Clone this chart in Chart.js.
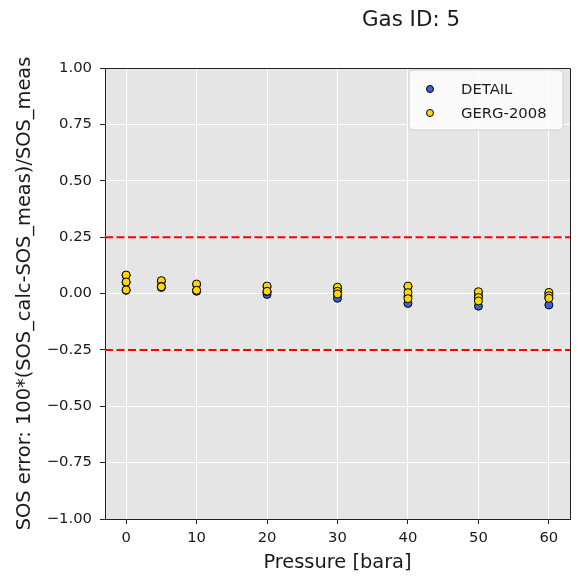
<!DOCTYPE html>
<html>
<head>
<meta charset="utf-8">
<script src="https://cdn.jsdelivr.net/npm/chart.js@4"></script>
<style>
html,body{margin:0;padding:0;background:#fff;}
canvas{display:block;}
</style>
</head>
<body>
<canvas id="c" width="578" height="577"></canvas>
<script>
// ---- data ----
const pressure = [0, 5, 10, 20, 30, 40, 50, 60];
const detailRun1 = [0.080, 0.055, 0.040, 0.030, 0.025, 0.030, 0.005, 0.000];
const detailRun2 = [0.049, 0.030, 0.012, 0.005, -0.005, -0.012, -0.011, -0.020];
const detailRun3 = [0.014, 0.027, 0.010, -0.004, -0.021, -0.044, -0.056, -0.051];
const gergRun1 = [0.082, 0.057, 0.042, 0.033, 0.028, 0.033, 0.008, 0.005];
const gergRun2 = [0.051, 0.032, 0.013, 0.008, 0.010, 0.004, -0.018, -0.010];
const gergRun3 = [0.016, 0.030, 0.014, 0.010, -0.002, -0.023, -0.033, -0.021];
const limitValues = [0.25, -0.25];
const xTicks = [0, 10, 20, 30, 40, 50, 60];
const yTicks = [-1, -0.75, -0.5, -0.25, 0, 0.25, 0.5, 0.75, 1];
const xRange = [-3, 63];
const yRange = [-1, 1];
const seriesLabels = ['DETAIL', 'GERG-2008'];
const titleText = 'Gas ID: 5';
const xTitle = 'Pressure [bara]';
const yTitle = 'SOS error: 100*(SOS_calc-SOS_meas)/SOS_meas';

function toPoints(runs) {
  const pts = [];
  runs.forEach(r => r.forEach((v, i) => pts.push({x: pressure[i], y: v})));
  return pts;
}

const FONT = "'DejaVu Sans', sans-serif";
const TXT = '#1a1a1a';

const limitDatasets = limitValues.map(v => ({
  type: 'line',
  label: '_limit',
  data: [{x: xRange[0], y: v}, {x: xRange[1], y: v}],
  borderColor: '#ff0000',
  borderWidth: 2,
  borderDash: [8, 3.5],
  pointRadius: 0,
  fill: false,
  order: 0
}));

const bgPlugin = {
  id: 'bg',
  beforeDraw(chart) {
    const ctx = chart.ctx, a = chart.chartArea;
    ctx.save();
    ctx.fillStyle = '#fff';
    ctx.fillRect(0, 0, chart.width, chart.height);
    ctx.fillStyle = '#e5e5e5';
    ctx.fillRect(a.left, a.top, a.right - a.left, a.bottom - a.top);
    ctx.restore();
  },
  afterDraw(chart) {
    const ctx = chart.ctx, a = chart.chartArea;
    ctx.save();
    // top & right spines
    ctx.strokeStyle = '#222';
    ctx.lineWidth = 1;
    ctx.beginPath();
    ctx.moveTo(a.left, a.top + 0.5);
    ctx.lineTo(a.right + 0.5, a.top + 0.5);
    ctx.lineTo(a.right + 0.5, a.bottom);
    ctx.stroke();
    // legend
    const lx = a.right - 161, ly = a.top + 2, lw = 154, lh = 60, r = 4;
    ctx.beginPath();
    ctx.moveTo(lx + r, ly);
    ctx.arcTo(lx + lw, ly, lx + lw, ly + lh, r);
    ctx.arcTo(lx + lw, ly + lh, lx, ly + lh, r);
    ctx.arcTo(lx, ly + lh, lx, ly, r);
    ctx.arcTo(lx, ly, lx + lw, ly, r);
    ctx.closePath();
    ctx.fillStyle = 'rgba(255,255,255,0.8)';
    ctx.fill();
    ctx.strokeStyle = '#d0d0d0';
    ctx.stroke();
    const scatterSets = chart.data.datasets.filter(d => d.type === 'scatter');
    scatterSets.forEach((d, i) => {
      const cy = ly + 19 + i * 24;
      ctx.beginPath();
      ctx.arc(lx + 21, cy, 3.5, 0, Math.PI * 2);
      ctx.fillStyle = d.backgroundColor;
      ctx.fill();
      ctx.strokeStyle = '#000';
      ctx.lineWidth = 1;
      ctx.stroke();
      ctx.fillStyle = TXT;
      ctx.font = '14.8px ' + FONT;
      ctx.textAlign = 'left';
      ctx.textBaseline = 'middle';
      ctx.fillText(d.label, lx + 52, cy + 1);
    });
    // title
    ctx.fillStyle = TXT;
    ctx.font = '21.4px ' + FONT;
    ctx.textAlign = 'center';
    ctx.textBaseline = 'middle';
    ctx.fillText(titleText, 411, 20);
    ctx.restore();
  }
};

new Chart(document.getElementById('c'), {
  data: {
    datasets: [
      {
        type: 'scatter',
        label: seriesLabels[0],
        data: toPoints([detailRun1, detailRun2, detailRun3]),
        backgroundColor: '#3a63d6',
        borderColor: '#000',
        borderWidth: 1,
        pointRadius: 4,
        pointHoverRadius: 4,
        order: 2
      },
      {
        type: 'scatter',
        label: seriesLabels[1],
        data: toPoints([gergRun1, gergRun2, gergRun3]),
        backgroundColor: '#ffd700',
        borderColor: '#000',
        borderWidth: 1,
        pointRadius: 4,
        pointHoverRadius: 4,
        order: 1
      },
      ...limitDatasets
    ]
  },
  options: {
    responsive: false,
    animation: false,
    events: [],
    layout: {padding: {top: 68, right: 8, left: 0, bottom: 0}},
    plugins: {legend: {display: false}, tooltip: {enabled: false}, title: {display: false}},
    scales: {
      x: {
        type: 'linear',
        min: xRange[0], max: xRange[1],
        afterBuildTicks(s) { s.ticks = xTicks.map(v => ({value: v})); },
        afterFit(s) { s.height = 58; },
        ticks: {color: TXT, font: {family: FONT, size: 14.8}, padding: 5, maxRotation: 0,
                callback: v => String(v)},
        grid: {color: '#ffffff', lineWidth: 1, tickColor: '#222', tickLength: 5, tickWidth: 1},
        border: {display: true, color: '#222', width: 1},
        title: {display: true, text: xTitle, color: TXT, font: {family: FONT, size: 19.4},
                padding: {top: 0, bottom: 2}}
      },
      y: {
        type: 'linear',
        min: yRange[0], max: yRange[1],
        afterBuildTicks(s) { s.ticks = yTicks.map(v => ({value: v})); },
        afterFit(s) { s.width = 105; },
        ticks: {color: TXT, font: {family: FONT, size: 14.8}, padding: 8,
                callback: v => (v < 0 ? '\u2212' : '') + Math.abs(v).toFixed(2)},
        grid: {color: '#ffffff', lineWidth: 1, tickColor: '#222', tickLength: 5, tickWidth: 1},
        border: {display: true, color: '#222', width: 1},
        title: {display: true, text: yTitle, color: TXT, font: {family: FONT, size: 19.4},
                padding: {top: 13, bottom: 0}}
      }
    }
  },
  plugins: [bgPlugin]
});
</script>
</body>
</html>
